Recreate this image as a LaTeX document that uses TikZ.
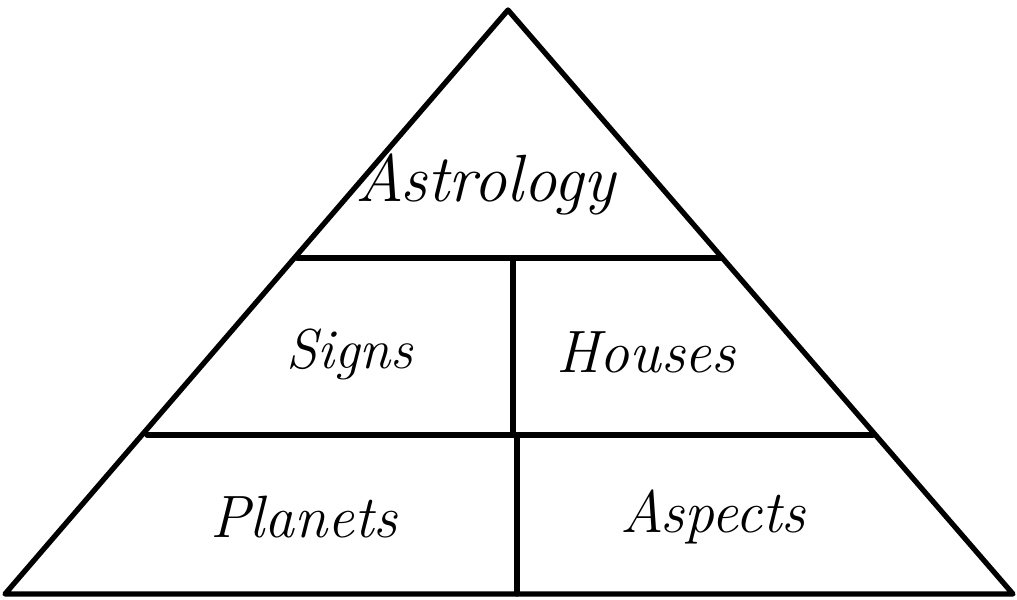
\documentclass[tikz,border=0pt]{standalone}
\usepackage{tikz}
\usetikzlibrary{positioning}

\tikzset{
  edge/.style={line width=1.5pt, line join=round, line cap=round},
  lbl/.style={font=\fontsize{17}{20}\selectfont\itshape}
}

\begin{document}
\begin{tikzpicture}[x=0.01cm, y=-0.01cm]
        \useasboundingbox (0,0) rectangle (1017,599);

        % triangle corners
        \coordinate (apex) at (508,10);
        \coordinate (bl) at (5,594);
        \coordinate (br) at (1013,594);

        % level dividers
        \coordinate (l1a) at (297,258);
        \coordinate (l1b) at (722,258);
        \coordinate (l2a) at (147,435);
        \coordinate (l2b) at (873,435);
        \coordinate (v1a) at (513,258);
        \coordinate (v1b) at (513,435);
        \coordinate (v2a) at (517,435);
        \coordinate (v2b) at (517,594);

        % outline and inner lines
        \draw[edge] (bl) -- (apex) -- (br) -- cycle;
        \draw[edge] (l1a) -- (l1b);
        \draw[edge] (l2a) -- (l2b);
        \draw[edge] (v1a) -- (v1b);
        \draw[edge] (v2a) -- (v2b);

        % labels
        \node[lbl, font=\fontsize{19}{23}\selectfont\itshape] (astrology) at (485,184) {Astrology};
        \node[lbl, font=\fontsize{16}{19}\selectfont\itshape] (signs) at (350,354) {Signs};
        \node[lbl] (houses) at (646,352) {Houses};
        \node[lbl] (planets) at (304,517) {Planets};
        \node[lbl] (aspects) at (713,517) {Aspects};
    \end{tikzpicture}
\end{document}
